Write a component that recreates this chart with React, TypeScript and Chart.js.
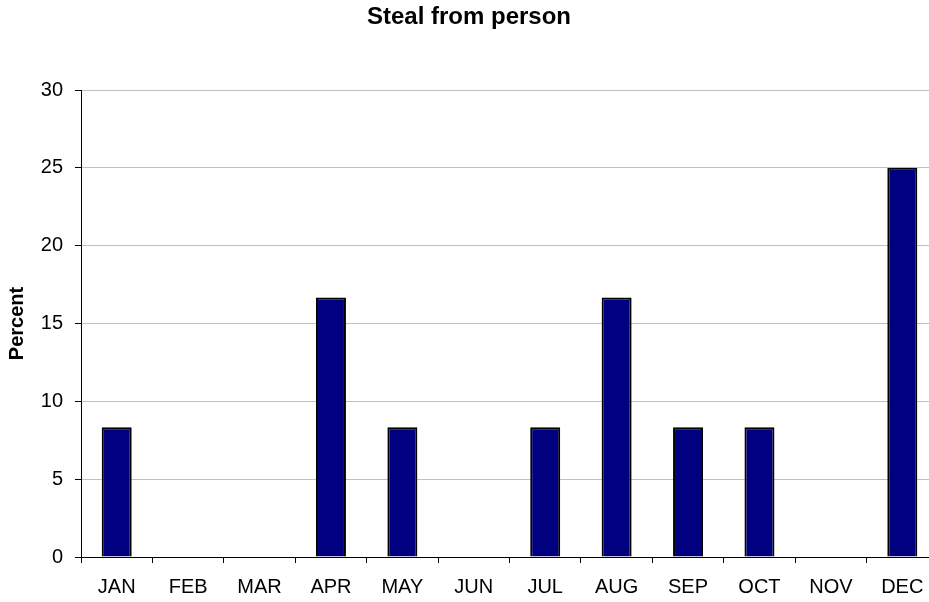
import React, { useEffect, useRef } from "react";
import { Chart, registerables } from "chart.js";

Chart.register(...registerables);

const TITLE = "Steal from person";
const Y_TITLE = "Percent";
const MONTHS = ["JAN", "FEB", "MAR", "APR", "MAY", "JUN", "JUL", "AUG", "SEP", "OCT", "NOV", "DEC"];
const PERCENT = [8.33, 0, 0, 16.67, 8.33, 0, 8.33, 16.67, 8.33, 8.33, 0, 25];
const Y_MIN = 0;
const Y_MAX = 30;
const Y_STEP = 5;

const FONT = "'Liberation Sans', Arial, Helvetica, sans-serif";

export default function App() {
  const ref = useRef<HTMLCanvasElement | null>(null);

  useEffect(() => {
    const canvas = ref.current;
    if (!canvas) return;
    const chart = new Chart(canvas, {
      type: "bar",
      data: {
        labels: MONTHS,
        datasets: [
          {
            data: PERCENT,
            backgroundColor: "#000080",
            borderColor: "#000000",
            borderWidth: 2,
            barPercentage: 0.42,
            categoryPercentage: 1,
          },
        ],
      },
      options: {
        responsive: false,
        animation: false,
        devicePixelRatio: 1,
        layout: { padding: 0 },
        plugins: {
          legend: { display: false },
          tooltip: { enabled: false },
          title: {
            display: true,
            text: TITLE,
            color: "#000",
            font: { family: FONT, size: 24, weight: "bold" },
            padding: { top: 3, bottom: 58.2 },
          },
        },
        scales: {
          x: {
            offset: true,
            grid: {
              display: true,
              offset: true,
              drawOnChartArea: false,
              drawTicks: true,
              tickLength: 6,
              tickColor: "#000",
            },
            border: { display: true, color: "#000", width: 1 },
            ticks: {
              color: "#000",
              font: { family: FONT, size: 20 },
              padding: 12.5,
              maxRotation: 0,
              autoSkip: false,
            },
            afterFit: (scale: any) => {
              scale.height = 45;
            },
          },
          y: {
            min: Y_MIN,
            max: Y_MAX,
            grid: {
              color: "#c0c0c0",
              lineWidth: 1,
              tickLength: 6,
              tickColor: "#000",
            },
            border: { display: true, color: "#000", width: 1 },
            ticks: {
              stepSize: Y_STEP,
              color: "#000",
              font: { family: FONT, size: 20 },
              padding: 12,
            },
            title: {
              display: true,
              text: Y_TITLE,
              color: "#000",
              font: { family: FONT, size: 20, weight: "bold" },
              padding: { top: 5.5, bottom: 0 },
            },
            afterFit: (scale: any) => {
              scale.width = 81;
            },
          },
        },
      },
    });
    return () => chart.destroy();
  }, []);

  return (
    <div
      style={{
        position: "fixed",
        left: 0,
        top: 0,
        width: 929,
        height: 602,
        overflow: "hidden",
        background: "#fff",
      }}
    >
      <canvas ref={ref} width={938} height={602} style={{ display: "block", width: 938, height: 602 }} />
    </div>
  );
}
